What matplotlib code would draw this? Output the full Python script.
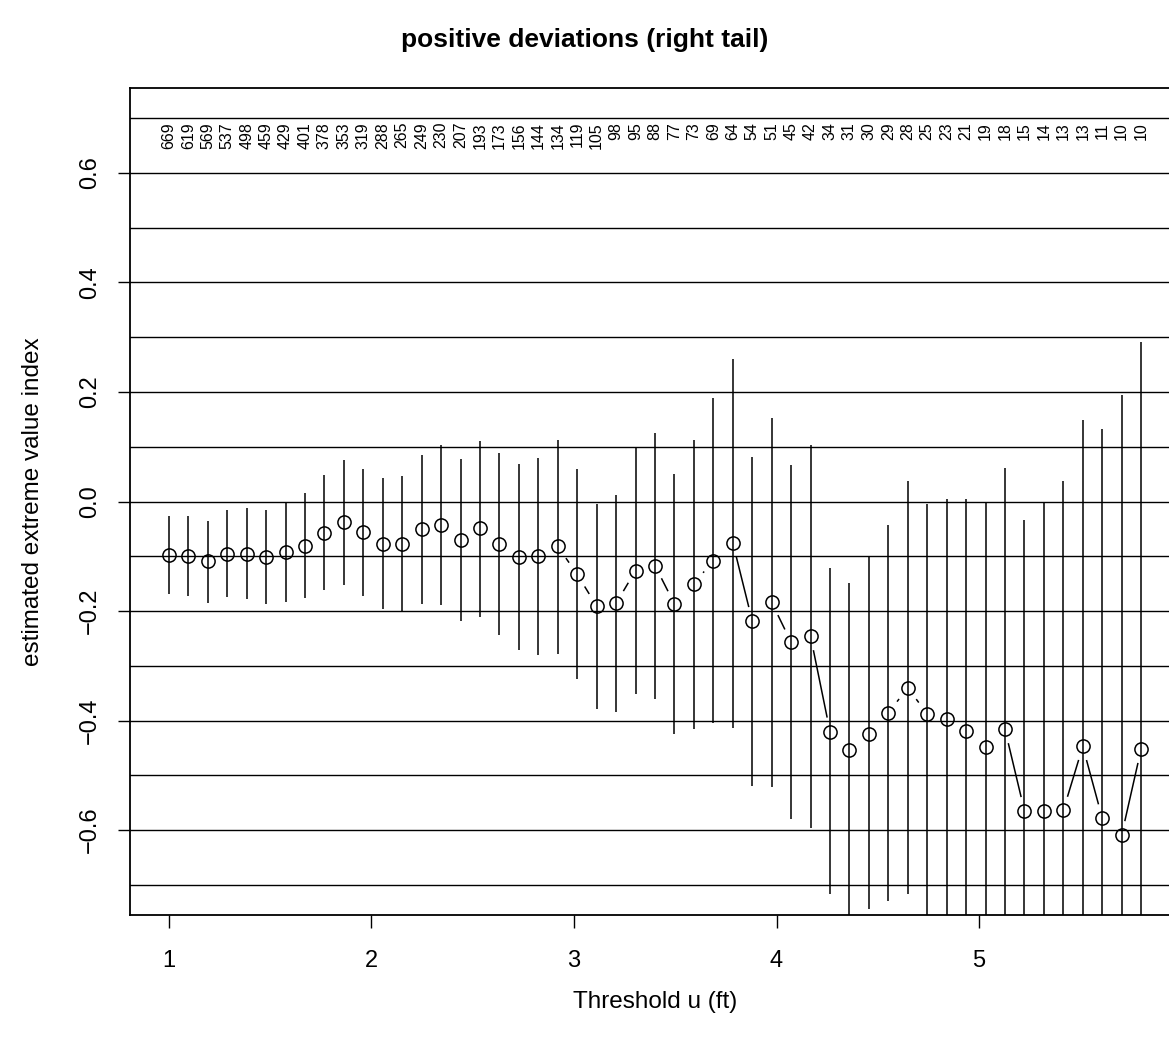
import numpy as np
import matplotlib
matplotlib.use("Agg")
import matplotlib.pyplot as plt

plt.rcParams['font.family'] = ['Liberation Sans', 'DejaVu Sans']

# thresholds (ft)
u = [1.000, 1.096, 1.192, 1.288, 1.384, 1.480, 1.576, 1.672, 1.768, 1.864,
     1.960, 2.056, 2.152, 2.248, 2.344, 2.440, 2.536, 2.632, 2.728, 2.824,
     2.920, 3.016, 3.112, 3.208, 3.304, 3.400, 3.496, 3.592, 3.688, 3.784,
     3.880, 3.976, 4.072, 4.168, 4.264, 4.360, 4.456, 4.552, 4.648, 4.744,
     4.840, 4.936, 5.032, 5.128, 5.224, 5.320, 5.416, 5.512, 5.608, 5.704,
     5.800]

# number of exceedances above each threshold
n_exc = [669, 619, 569, 537, 498, 459, 429, 401, 378, 353,
         319, 288, 265, 249, 230, 207, 193, 173, 156, 144,
         134, 119, 105, 98, 95, 88, 77, 73, 69, 64,
         54, 51, 45, 42, 34, 31, 30, 29, 28, 25,
         23, 21, 19, 18, 15, 14, 13, 13, 11, 10,
         10]

# estimated extreme value index
xi = [-0.097, -0.100, -0.109, -0.095, -0.095, -0.101, -0.093, -0.081, -0.057, -0.038,
      -0.056, -0.077, -0.078, -0.051, -0.043, -0.070, -0.049, -0.078, -0.101, -0.100,
      -0.082, -0.133, -0.191, -0.186, -0.126, -0.117, -0.187, -0.150, -0.108, -0.075,
      -0.218, -0.184, -0.257, -0.246, -0.420, -0.454, -0.424, -0.386, -0.340, -0.388,
      -0.398, -0.419, -0.448, -0.416, -0.565, -0.565, -0.564, -0.447, -0.578, -0.609,
      -0.452]

xi_upper = [-0.026, -0.027, -0.035, -0.015, -0.011, -0.015, -0.001, 0.015, 0.048, 0.075,
            0.060, 0.042, 0.047, 0.085, 0.103, 0.077, 0.111, 0.088, 0.069, 0.080,
            0.113, 0.060, -0.004, 0.012, 0.098, 0.125, 0.050, 0.112, 0.189, 0.261,
            0.082, 0.153, 0.066, 0.103, -0.122, -0.148, -0.102, -0.042, 0.037, -0.005,
            0.005, 0.005, 0.000, 0.061, -0.033, -0.001, 0.037, 0.149, 0.133, 0.195,
            0.292]

xi_lower = [-0.168, -0.173, -0.185, -0.175, -0.178, -0.187, -0.183, -0.177, -0.162, -0.152,
            -0.172, -0.196, -0.202, -0.188, -0.189, -0.218, -0.211, -0.243, -0.271, -0.280,
            -0.278, -0.325, -0.379, -0.384, -0.352, -0.360, -0.425, -0.415, -0.405, -0.413,
            -0.519, -0.522, -0.580, -0.596, -0.717, -0.760, -0.744, -0.730, -0.717, -0.771,
            -0.801, -0.843, -0.896, -0.893, -1.097, -1.129, -1.165, -1.043, -1.289, -1.413,
            -1.196]

grid_levels = [-0.7, -0.6, -0.5, -0.4, -0.3, -0.2, -0.1, 0.0, 0.1, 0.2, 0.3, 0.4, 0.5, 0.6, 0.7]

W, H = 1169, 1046
fig = plt.figure(figsize=(W / 100, H / 100), dpi=100)
ax = fig.add_axes([130 / W, (H - 915) / H, (1180 - 130) / W, (915 - 88) / H])
ax.set_xlim(0.808, 5.992)
ax.set_ylim(-0.755, 0.755)

for g in grid_levels:
    ax.axhline(g, color='black', lw=1.0, zorder=1)

ax.vlines(u, xi_lower, xi_upper, color='black', lw=1.1, zorder=2)
ax.plot(u, xi, 'o', ms=9.5, mfc='none', mec='black', mew=1.1, zorder=3)

# R type="b": line segments with a gap around each point
gap = 15.0
pix = ax.transData.transform(np.column_stack([u, xi]))
inv = ax.transData.inverted()
for p0, p1 in zip(pix[:-1], pix[1:]):
    d = p1 - p0
    L = np.hypot(*d)
    if L > 2 * gap:
        e = d / L
        seg = inv.transform(np.array([p0 + gap * e, p1 - gap * e]))
        ax.plot(seg[:, 0], seg[:, 1], color='black', lw=1.1, zorder=3)

for x, n in zip(u, n_exc):
    ax.text(x, 0.693, str(n), rotation=90, ha='center', va='top', fontsize=11.5)

ax.set_xticks([1, 2, 3, 4, 5])
ax.set_yticks([-0.6, -0.4, -0.2, 0.0, 0.2, 0.4, 0.6])
ax.set_xticklabels(['1', '2', '3', '4', '5'])
ax.set_yticklabels(['\u22120.6', '\u22120.4', '\u22120.2', '0.0', '0.2', '0.4', '0.6'],
                   rotation=90, va='center')
ax.tick_params(axis='both', direction='out', length=9, width=1.0, labelsize=17)
ax.tick_params(axis='x', pad=16)
ax.tick_params(axis='y', pad=12)
for s in ax.spines.values():
    s.set_linewidth(1.3)

fig.text(0.5, 1 - 40 / H, 'positive deviations (right tail)', ha='center', va='center',
         fontsize=19, fontweight='bold')
fig.text(655 / W, 1 - 1002 / H, 'Threshold u (ft)', ha='center', va='center', fontsize=17.5)
fig.text(33 / W, 1 - 502 / H, 'estimated extreme value index', ha='center', va='center',
         rotation=90, fontsize=17.5)

fig.savefig('out.png', dpi=100)
